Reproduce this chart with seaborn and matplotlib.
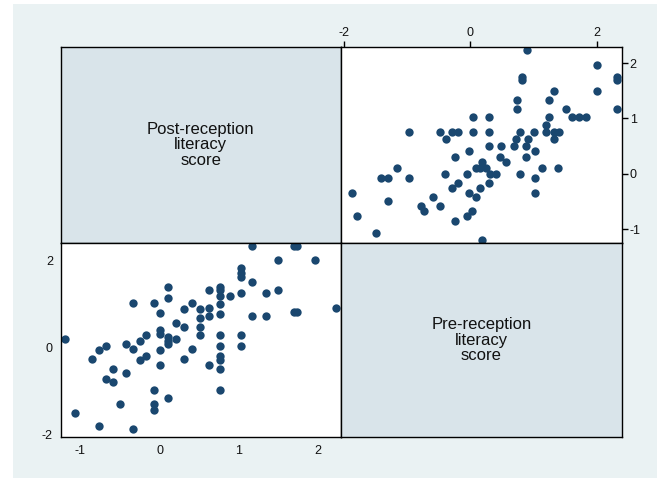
import matplotlib
matplotlib.use("Agg")
import matplotlib.pyplot as plt
import seaborn as sns
import pandas as pd
from matplotlib.patches import Rectangle

# ---- data ----
post = [-1.19, -1.07, -0.77, -0.85, -0.77, -0.68, -0.68, -0.59, -0.59, -0.50,
        -0.42, -0.42, -0.34, -0.34, -0.34, -0.25, -0.25, -0.17, -0.17, -0.07,
        -0.07, -0.07, -0.07, 0.00, 0.00, 0.00, 0.00, 0.00, 0.105, 0.105,
        0.105, 0.105, 0.105, 0.105, 0.205, 0.205, 0.31, 0.31, 0.31, 0.41,
        0.41, 0.51, 0.51, 0.51, 0.51, 0.62, 0.62, 0.62, 0.62, 0.76,
        0.76, 0.76, 0.76, 0.76, 0.76, 0.76, 0.76, 0.76, 0.76, 0.76,
        0.89, 1.03, 1.03, 1.03, 1.03, 1.03, 1.03, 1.17, 1.17, 1.17,
        1.34, 1.34, 1.50, 1.50, 1.70, 1.74, 1.70, 1.74, 1.96, 2.23]
pre = [0.19, -1.50, -1.80, -0.25, -0.06, 0.03, -0.73, -0.49, -0.78, -1.30,
       -0.59, 0.09, 1.02, -0.02, -1.87, 0.15, -0.29, 0.30, -0.20, 1.02,
       -0.98, -1.30, -1.42, 0.79, 0.41, 0.31, -0.06, -0.40, 1.39, 1.13,
       0.25, 0.15, 0.08, -1.16, 0.56, 0.19, 0.88, 0.47, -0.25, 1.02,
       -0.02, 0.88, 0.69, 0.48, 0.30, 1.32, 0.91, 0.72, -0.39, 1.40,
       1.32, 1.19, 1.01, 0.78, 0.30, 0.04, -0.20, -0.29, -0.49, -0.98,
       1.19, 1.83, 1.72, 1.61, 1.25, 0.30, 0.04, 2.32, 1.51, 0.73,
       1.25, 0.73, 2.00, 1.32, 2.32, 2.32, 0.81, 0.81, 2.00, 0.90]

var_labels = ["Post-reception\nliteracy\nscore", "Pre-reception\nliteracy\nscore"]
post_ticks = [-1, 0, 1, 2]
pre_ticks = [-2, 0, 2]

df = pd.DataFrame({"post": post, "pre": pre})

# ---- style ----
sns.set_style("white")
plt.rcParams["font.family"] = ["Liberation Sans", "DejaVu Sans"]
plt.rcParams["axes.unicode_minus"] = False

OUTER_BG = "#EAF2F3"
DIAG_BG = "#D9E4EA"
NAVY = "#1A476F"

fig = plt.figure(figsize=(6.57, 4.78), dpi=100)
fig.patch.set_facecolor("white")
fig.patches.append(Rectangle((13 / 657, 0), 1 - 13 / 657, 1 - 4 / 478,
                             transform=fig.transFigure, facecolor=OUTER_BG,
                             edgecolor="none", zorder=-10))

W, H = 657.0, 478.0
xs = [60.5, 341.0, 622.0]
ys = [47.0, 243.0, 437.0]


def make_ax(col, row):
    left = xs[col] / W
    width = (xs[col + 1] - xs[col]) / W
    bottom = 1 - ys[row + 1] / H
    height = (ys[row + 1] - ys[row]) / H
    return fig.add_axes([left, bottom, width, height])


post_lim = (-1.25, 2.29)
pre_lim = (-2.05, 2.40)

ax_tl = make_ax(0, 0)
ax_tr = make_ax(1, 0)
ax_bl = make_ax(0, 1)
ax_br = make_ax(1, 1)

for ax, lab in [(ax_tl, var_labels[0]), (ax_br, var_labels[1])]:
    ax.set_facecolor(DIAG_BG)
    ax.set_xticks([])
    ax.set_yticks([])
    ax.text(0.5, 0.5, lab, transform=ax.transAxes, ha="center", va="center",
            fontsize=12, linespacing=1.05, color="#111111")

# top-right: x = pre, y = post
sns.scatterplot(data=df, x="pre", y="post", ax=ax_tr, color=NAVY, s=36,
                linewidth=0, legend=False)
ax_tr.set_xlim(*pre_lim)
ax_tr.set_ylim(*post_lim)
ax_tr.set_xticks(pre_ticks)
ax_tr.set_yticks(post_ticks)
ax_tr.xaxis.tick_top()
ax_tr.yaxis.tick_right()

# bottom-left: x = post, y = pre
sns.scatterplot(data=df, x="post", y="pre", ax=ax_bl, color=NAVY, s=36,
                linewidth=0, legend=False)
ax_bl.set_xlim(*post_lim)
ax_bl.set_ylim(*pre_lim)
ax_bl.set_xticks(post_ticks)
ax_bl.set_yticks(pre_ticks)

for ax in [ax_tr, ax_bl]:
    ax.set_facecolor("white")
    ax.set_xlabel("")
    ax.set_ylabel("")
    ax.tick_params(axis="both", direction="out", length=4, width=1,
                   color="black", labelsize=9, pad=1.5, labelcolor="#111111")

for ax in [ax_tl, ax_tr, ax_bl, ax_br]:
    for sp in ax.spines.values():
        sp.set_visible(True)
        sp.set_color("black")
        sp.set_linewidth(1.0)

fig.savefig("out.png", dpi=100, facecolor=fig.get_facecolor())
